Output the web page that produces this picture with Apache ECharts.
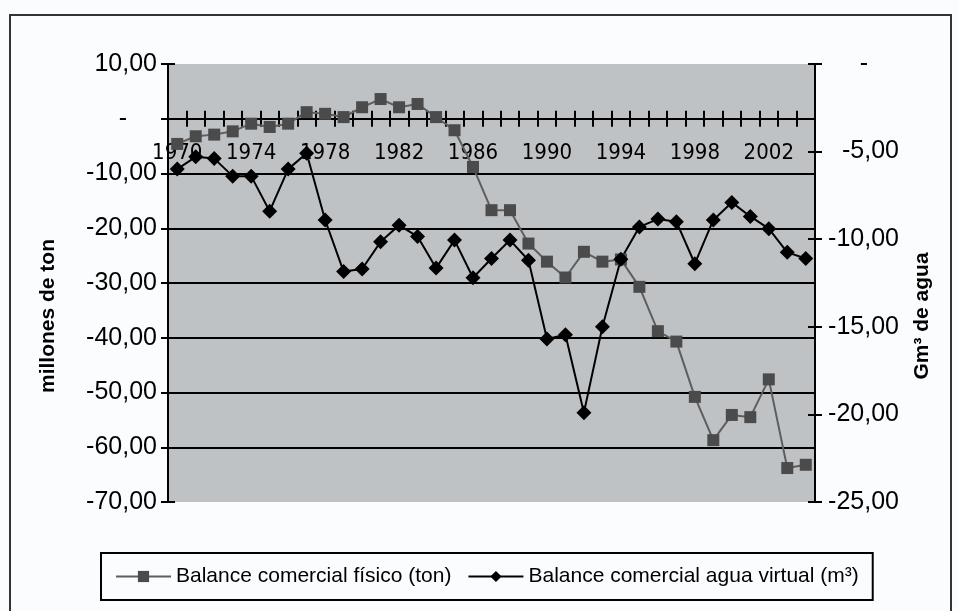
<!DOCTYPE html>
<html>
<head>
<meta charset="utf-8">
<script src="https://cdn.jsdelivr.net/npm/echarts@6/dist/echarts.min.js"></script>
<style>
html,body{margin:0;padding:0;background:#fbfcfd;}
#chart{width:959px;height:611px;}
</style>
</head>
<body>
<div id="chart"></div>
<script>
const years = ['1970','1971','1972','1973','1974','1975','1976','1977','1978','1979',
  '1980','1981','1982','1983','1984','1985','1986','1987','1988','1989',
  '1990','1991','1992','1993','1994','1995','1996','1997','1998','1999',
  '2000','2001','2002','2003','2004'];
const fisico = [-4.6,-3.2,-2.9,-2.3,-0.9,-1.5,-0.9,1.2,0.9,0.3,
  2.1,3.6,2.1,2.7,0.3,-2.1,-8.8,-16.7,-16.7,-22.8,
  -26.1,-29.0,-24.3,-26.1,-25.7,-30.7,-38.8,-40.7,-50.8,-58.7,
  -54.1,-54.5,-47.6,-63.8,-63.2];
const agua = [-6.0,-5.3,-5.4,-6.4,-6.4,-8.4,-6.0,-5.1,-8.9,-11.85,
  -11.7,-10.15,-9.2,-9.85,-11.65,-10.05,-12.2,-11.1,-10.05,-11.2,
  -15.7,-15.45,-19.9,-15.0,-11.15,-9.3,-8.85,-9.0,-11.4,-8.9,
  -7.9,-8.7,-9.4,-10.75,-11.1];
const seriesNames = ['Balance comercial físico (ton)','Balance comercial agua virtual (m³)'];
const leftTitle = 'millones de ton';
const rightTitle = 'Gm³ de agua';

const FONT = "'Liberation Sans', Arial, sans-serif";
const NARROW = "'Liberation Sans Narrow', 'DejaVu Sans Condensed', 'Liberation Sans', sans-serif";
function fmt(v){ return v.toFixed(2).replace('.', ','); }

const GRID_TOP = 64, GRID_BOTTOM = 109, GRID_H = 611 - GRID_TOP - GRID_BOTTOM;
const LMIN = -70, LMAX = 10;
// distance from grid bottom to the zero line of the left axis
const zeroOffset = -GRID_H * (0 - LMIN) / (LMAX - LMIN);

const chart = echarts.init(document.getElementById('chart'));
chart.setOption({
  backgroundColor: '#fbfcfd',
  animation: false,
  grid: {left:168, right:144, top:GRID_TOP, bottom:GRID_BOTTOM, show:true, backgroundColor:'#bfc2c5', borderWidth:0},
  graphic: [
    {type:'rect', z:-1, shape:{x:10,y:15,width:941,height:620}, style:{fill:'none', stroke:'#333', lineWidth:2}},
    {type:'text', x:48, y:316, rotation:Math.PI/2, style:{text:leftTitle, fontSize:21, fontWeight:'bold', fontFamily:FONT, fill:'#000', align:'center', verticalAlign:'middle'}},
    {type:'text', x:922, y:316, rotation:Math.PI/2, style:{text:rightTitle, fontSize:21, fontWeight:'bold', fontFamily:FONT, fill:'#000', align:'center', verticalAlign:'middle'}}
  ],
  legend: {
    left:101, top:553, orient:'horizontal',
    borderColor:'#000', borderWidth:2, padding:[13,14],
    itemWidth:55, itemHeight:14, itemGap:16,
    textStyle:{fontSize:21, fontFamily:FONT, color:'#000'},
    data: seriesNames
  },
  xAxis: [
    {type:'category', data:years, boundaryGap:true, position:'bottom', offset:zeroOffset,
     axisLine:{onZero:false, lineStyle:{color:'#000', width:2}},
     axisTick:{show:true, interval:0, length:8, lineStyle:{color:'#000', width:2}},
     axisLabel:{interval:3, margin:24, fontSize:22, fontFamily:NARROW, color:'#000'},
     splitLine:{show:false}},
    {type:'category', data:years, boundaryGap:true, position:'bottom', offset:zeroOffset,
     axisLine:{onZero:false, lineStyle:{color:'#000', width:2}},
     axisTick:{show:true, inside:true, interval:0, length:8, lineStyle:{color:'#000', width:2}},
     axisLabel:{show:false}, splitLine:{show:false}}
  ],
  yAxis: [
    {type:'value', position:'left', min:LMIN, max:LMAX, interval:10,
     axisLine:{show:true, onZero:false, lineStyle:{color:'#000', width:2}},
     axisTick:{show:true, length:7, lineStyle:{color:'#000', width:2}},
     axisLabel:{margin:11, fontSize:25, fontFamily:FONT, color:'#000',
       formatter:function(v){ return v===0 ? '{z|-}' : fmt(v); },
       rich:{z:{fontSize:25, fontFamily:FONT, color:'#000', padding:[0,30,0,0]}}},
     splitLine:{show:true, showMinLine:false, showMaxLine:false, lineStyle:{color:'#000', width:2}}},
    {type:'value', position:'right', min:-25, max:0, interval:5,
     axisLine:{show:true, onZero:false, lineStyle:{color:'#000', width:2}},
     axisTick:{show:true, length:7, lineStyle:{color:'#000', width:2}},
     axisLabel:{margin:84, align:'right', fontSize:25, fontFamily:FONT, color:'#000',
       formatter:function(v){ return v===0 ? '{z|-}' : fmt(v); },
       rich:{z:{fontSize:25, fontFamily:FONT, color:'#000', padding:[0,31,0,0]}}},
     splitLine:{show:false}},
    {type:'value', position:'left', min:LMIN, max:LMAX, interval:10,
     axisLine:{show:false, onZero:false},
     axisTick:{show:true, inside:true, length:7, lineStyle:{color:'#000', width:2}},
     axisLabel:{show:false}, splitLine:{show:false}},
    {type:'value', position:'right', min:-25, max:0, interval:5,
     axisLine:{show:false, onZero:false},
     axisTick:{show:true, inside:true, length:7, lineStyle:{color:'#000', width:2}},
     axisLabel:{show:false}, splitLine:{show:false}}
  ],
  series: [
    {name:seriesNames[0], type:'line', xAxisIndex:0, yAxisIndex:0, data:fisico,
     symbol:'rect', symbolSize:12, showAllSymbol:true,
     lineStyle:{color:'#5e5e5e', width:2}, itemStyle:{color:'#4b4b4b'}},
    {name:seriesNames[1], type:'line', xAxisIndex:0, yAxisIndex:1, data:agua,
     symbol:'diamond', symbolSize:15, showAllSymbol:true,
     lineStyle:{color:'#000', width:2}, itemStyle:{color:'#000'}}
  ]
});
</script>
</body>
</html>
